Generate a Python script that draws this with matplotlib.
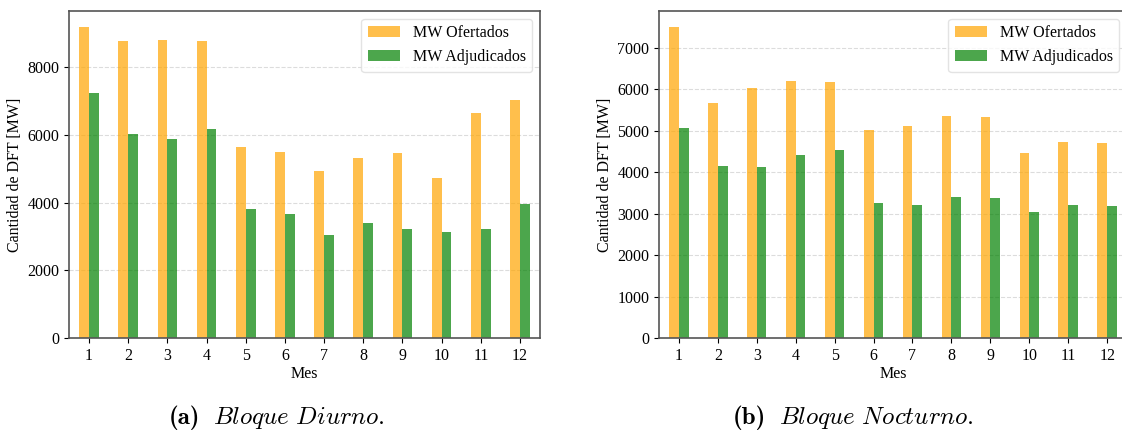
import matplotlib
matplotlib.use("Agg")
import matplotlib.pyplot as plt
import numpy as np

plt.rcParams['font.family'] = ['Liberation Serif', 'DejaVu Serif']
plt.rcParams['mathtext.fontset'] = 'cm'

months = [1, 2, 3, 4, 5, 6, 7, 8, 9, 10, 11, 12]
diurno_ofertados = [9200, 8760, 8790, 8760, 5655, 5505, 4945, 5330, 5478, 4740, 6660, 7045]
diurno_adjudicados = [7250, 6040, 5890, 6185, 3810, 3665, 3045, 3400, 3220, 3130, 3220, 3960]
nocturno_ofertados = [7505, 5655, 6015, 6205, 6160, 5005, 5100, 5340, 5315, 4450, 4715, 4690]
nocturno_adjudicados = [5050, 4138, 4112, 4403, 4522, 3242, 3216, 3408, 3384, 3025, 3216, 3192]

label_of = "MW Ofertados"
label_ad = "MW Adjudicados"
xlabel = "Mes"
ylabel = "Cantidad de DFT [MW]"
cap_tags = ["(a)", "(b)"]
cap_texts = [r"$\mathit{Bloque\ Diurno.}$", r"$\mathit{Bloque\ Nocturno.}$"]

col_of = (1.0, 0.647, 0.0, 0.7)
col_ad = (0.0, 0.5, 0.0, 0.7)

fs = 11.5
fig = plt.figure(figsize=(11.22, 4.30), dpi=100)
ax1 = fig.add_axes([69/1122, 92/430, 471/1122, 327/430])
ax2 = fig.add_axes([659/1122, 92/430, 468/1122, 327/430])

w = 0.25
for ax, of, ad in [(ax1, diurno_ofertados, diurno_adjudicados), (ax2, nocturno_ofertados, nocturno_adjudicados)]:
    x = np.array(months)
    ax.bar(x - w/2, of, width=w, color=col_of, label=label_of, zorder=2)
    ax.bar(x + w/2, ad, width=w, color=col_ad, label=label_ad, zorder=2)
    ax.set_xticks(x)
    ax.set_xticklabels([str(m) for m in months])
    ax.set_xlim(0.49, 12.51)
    ax.set_xlabel(xlabel, fontsize=fs, labelpad=2)
    ax.set_ylabel(ylabel, fontsize=fs, labelpad=3)
    ax.tick_params(labelsize=fs)
    ax.yaxis.grid(True, linestyle='--', color='#dcdcdc', linewidth=0.8, zorder=0)
    ax.set_axisbelow(True)
    for s in ax.spines.values():
        s.set_color('#555555')
        s.set_linewidth(1.2)
    ax.legend(loc='upper right', fontsize=fs, edgecolor='#dddddd')

# captions: bold tag + italic text, centred under each panel
renderer = fig.canvas.get_renderer()
cap_fs = 18
gap_px = 13
centers = [277, 853]
base_y = 6 / 430
for cx, tag, txt in zip(centers, cap_tags, cap_texts):
    t1 = fig.text(0, base_y, tag, family='cmb10', fontsize=cap_fs, ha='left', va='baseline')
    t2 = fig.text(0, base_y, txt, fontsize=cap_fs, ha='left', va='baseline')
    w1 = t1.get_window_extent(renderer).width
    w2 = t2.get_window_extent(renderer).width
    total = w1 + gap_px + w2
    x0 = cx - total / 2
    t1.set_x(x0 / 1122)
    t2.set_x((x0 + w1 + gap_px) / 1122)

fig.savefig("out.png", dpi=100)
